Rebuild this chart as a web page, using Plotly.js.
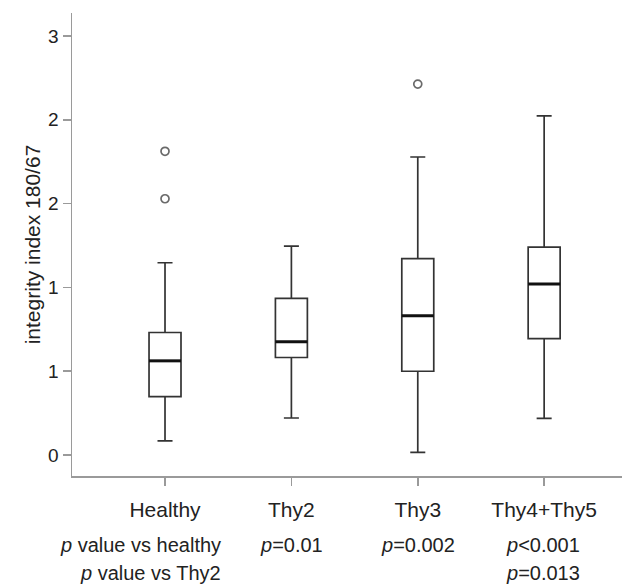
<!DOCTYPE html>
<html>
<head>
<meta charset="utf-8">
<script src="https://cdn.plot.ly/plotly-3.0.1.min.js"></script>
<style>html,body{margin:0;padding:0;background:#fff;}#chart{width:622px;height:584px;}</style>
</head>
<body>
<div id="chart"></div>
<script>
// ---- data ----
const categories = ["Healthy", "Thy2", "Thy3", "Thy4+Thy5"];
const lowerFence = [0.084, 0.221, 0.016, 0.219];
const q1Values   = [0.349, 0.582, 0.500, 0.694];
const medians    = [0.562, 0.676, 0.831, 1.021];
const q3Values   = [0.731, 0.935, 1.172, 1.240];
const upperFence = [1.147, 1.246, 1.778, 2.023];
const outlierCategories = ["Healthy", "Healthy", "Thy3"];
const outlierValues     = [1.529, 1.812, 2.213];
const yTickValues = [0, 0.5, 1, 1.5, 2, 2.5];
const yTickLabels = ["0", "1", "1", "2", "2", "3"];
const rowLabels = ["<i>p</i> value vs healthy", "<i>p</i> value vs Thy2"];
const pVsHealthy = [null, "<i>p</i>=0.01", "<i>p</i>=0.002", "<i>p</i><0.001"];
const pVsThy2    = [null, null, null, "<i>p</i>=0.013"];

// ---- styling ----
const FONT = "Liberation Sans, Arial, sans-serif";
const BOX_W = 0.253;
const axisColor = "#9a9a9a";

const traces = [
  {
    type: "box",
    x: categories,
    q1: q1Values,
    median: medians,
    q3: q3Values,
    lowerfence: lowerFence,
    upperfence: upperFence,
    width: BOX_W,
    whiskerwidth: 0.47,
    fillcolor: "#ffffff",
    line: {color: "#333333", width: 1.7},
    boxpoints: false,
    showlegend: false,
    hoverinfo: "skip"
  },
  {
    type: "scatter",
    mode: "markers",
    x: outlierCategories,
    y: outlierValues,
    marker: {symbol: "circle-open", size: 8, color: "#6a6a6a", line: {width: 1.7, color: "#6a6a6a"}},
    showlegend: false,
    hoverinfo: "skip"
  }
];

const shapes = medians.map((m, i) => ({
  type: "line", xref: "x", yref: "y",
  x0: i - BOX_W / 2, x1: i + BOX_W / 2, y0: m, y1: m,
  line: {color: "#111111", width: 3}
}));

const annotations = [];
const rowY = [-0.149, -0.210];
rowLabels.forEach((t, r) => {
  annotations.push({text: t, xref: "x", yref: "paper", x: 0.462, y: rowY[r],
    xanchor: "right", yanchor: "middle", showarrow: false,
    font: {family: FONT, size: 20, color: "#222"}});
});
[pVsHealthy, pVsThy2].forEach((row, r) => {
  row.forEach((t, i) => {
    if (!t) return;
    const last = i === categories.length - 1;
    annotations.push({text: t, xref: "x", yref: "paper",
      x: last ? i - 0.32 : i, y: rowY[r],
      xanchor: last ? "left" : "center", yanchor: "middle", showarrow: false,
      font: {family: FONT, size: 20, color: "#222"}});
  });
});

const layout = {
  width: 622, height: 584,
  margin: {l: 72, r: 0, t: 13, b: 108, pad: 0},
  paper_bgcolor: "#fff", plot_bgcolor: "#fff",
  font: {family: FONT, color: "#222"},
  showlegend: false,
  xaxis: {
    type: "category",
    range: [-0.736, 3.616],
    showgrid: false, zeroline: false,
    showline: true, linecolor: axisColor, linewidth: 1.5,
    ticks: "outside", ticklen: 8, tickwidth: 1.5, tickcolor: axisColor,
    ticklabelstandoff: 6,
    tickfont: {family: FONT, size: 21, color: "#222"},
    fixedrange: true
  },
  yaxis: {
    range: [-0.125, 2.637],
    tickmode: "array", tickvals: yTickValues, ticktext: yTickLabels,
    showgrid: false, zeroline: false,
    showline: true, linecolor: axisColor, linewidth: 1.5,
    ticks: "outside", ticklen: 8, tickwidth: 1.5, tickcolor: axisColor,
    tickfont: {family: FONT, size: 19, color: "#222"},
    title: {text: "integrity index 180/67", font: {family: FONT, size: 21, color: "#222"}, standoff: 2},
    fixedrange: true
  },
  shapes: shapes,
  annotations: annotations
};

Plotly.newPlot("chart", traces, layout, {displayModeBar: false, staticPlot: true});
</script>
</body>
</html>
